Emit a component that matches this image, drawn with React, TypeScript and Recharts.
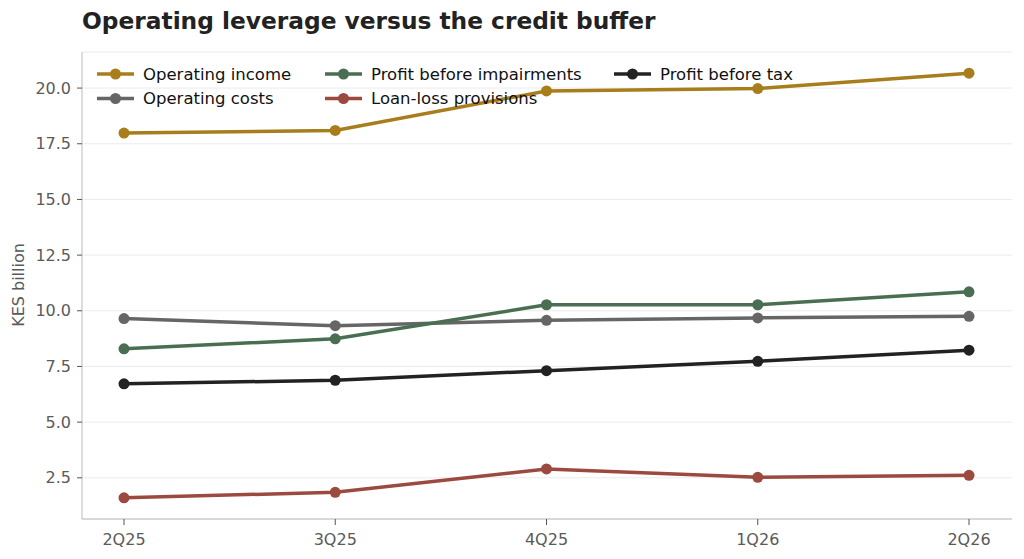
import { CartesianGrid, Line, LineChart, XAxis, YAxis } from 'recharts'

const QUARTERS = ['2Q25', '3Q25', '4Q25', '1Q26', '2Q26']
const OPERATING_INCOME = [17.98, 18.1, 19.87, 19.98, 20.67]
const OPERATING_COSTS = [9.65, 9.33, 9.57, 9.68, 9.75]
const PROFIT_BEFORE_IMPAIRMENTS = [8.29, 8.74, 10.27, 10.27, 10.85]
const PROFIT_BEFORE_TAX = [6.72, 6.88, 7.31, 7.73, 8.23]
const LOAN_LOSS_PROVISIONS = [1.6, 1.85, 2.9, 2.52, 2.61]
const Y_TICKS = [2.5, 5, 7.5, 10, 12.5, 15, 17.5, 20]

const SERIES = [
  { key: 'income', name: 'Operating income', color: '#a87d1c', values: OPERATING_INCOME },
  { key: 'costs', name: 'Operating costs', color: '#666666', values: OPERATING_COSTS },
  { key: 'pbi', name: 'Profit before impairments', color: '#4a6e52', values: PROFIT_BEFORE_IMPAIRMENTS },
  { key: 'loss', name: 'Loan-loss provisions', color: '#9c4a40', values: LOAN_LOSS_PROVISIONS },
  { key: 'pbt', name: 'Profit before tax', color: '#222222', values: PROFIT_BEFORE_TAX },
]

const data = QUARTERS.map((q, i) => {
  const row: Record<string, string | number> = { quarter: q }
  SERIES.forEach((s) => (row[s.key] = s.values[i]))
  return row
})

const FONT = 'DejaVu Sans, sans-serif'

// legend is laid out column by column, like the original
const LEGEND_COLUMNS = [
  ['income', 'costs'],
  ['pbi', 'loss'],
  ['pbt'],
]
const COLUMN_X = [97, 325, 614]

function ChartLegend() {
  return (
    <svg
      width={1024}
      height={559}
      style={{ position: 'absolute', left: 0, top: 0, pointerEvents: 'none' }}
    >
      {LEGEND_COLUMNS.map((col, ci) =>
        col.map((key, ri) => {
          const s = SERIES.find((x) => x.key === key)!
          const x = COLUMN_X[ci]
          const y = 74 + ri * 24.5
          return (
            <g key={key}>
              <line x1={x} x2={x + 37} y1={y} y2={y} stroke={s.color} strokeWidth={3.5} />
              <circle cx={x + 18.5} cy={y} r={5.5} fill={s.color} />
              <text x={x + 46} y={y} dy="0.36em" fontSize={16.5} fontFamily={FONT} fill="#111">
                {s.name}
              </text>
            </g>
          )
        }),
      )}
    </svg>
  )
}

export default function App() {
  return (
    <div style={{ position: 'absolute', left: 0, top: 0, width: 1024, height: 559, background: '#fff' }}>
      <div
        style={{
          position: 'absolute',
          left: 82,
          top: 7,
          fontFamily: FONT,
          fontWeight: 'bold',
          fontSize: 23.3,
          color: '#222',
        }}
      >
        Operating leverage versus the credit buffer
      </div>
      <LineChart width={1024} height={559} data={data} margin={{ top: 52, right: 12, bottom: 2, left: 0 }}>
        <CartesianGrid vertical={false} stroke="#ebebeb" />
        <XAxis
          dataKey="quarter"
          height={38}
          padding={{ left: 42, right: 43 }}
          tick={{ fill: '#5a5a5a', fontSize: 16, fontFamily: FONT }}
          tickLine={{ stroke: '#555' }}
          axisLine={{ stroke: '#bbb' }}
          tickSize={6}
          tickMargin={9}
        />
        <YAxis
          width={82}
          domain={[0.65, 21.62]}
          ticks={Y_TICKS}
          tickFormatter={(v: number) => v.toFixed(1)}
          tick={{ fill: '#5a5a5a', fontSize: 16, fontFamily: FONT }}
          tickLine={{ stroke: '#555' }}
          axisLine={{ stroke: '#bbb' }}
          tickSize={5}
          tickMargin={6}
          label={{
            content: () => (
              <text
                transform="translate(24,285) rotate(-90)"
                textAnchor="middle"
                fontSize={16}
                fontFamily={FONT}
                fill="#5a5a5a"
              >
                KES billion
              </text>
            ),
          }}
        />
        {SERIES.map((s) => (
          <Line
            key={s.key}
            type="linear"
            dataKey={s.key}
            name={s.name}
            stroke={s.color}
            strokeWidth={3.5}
            dot={{ r: 5.5, fill: s.color, stroke: s.color, strokeWidth: 0 }}
            activeDot={false}
            isAnimationActive={false}
          />
        ))}
      </LineChart>
      <ChartLegend />
    </div>
  )
}
